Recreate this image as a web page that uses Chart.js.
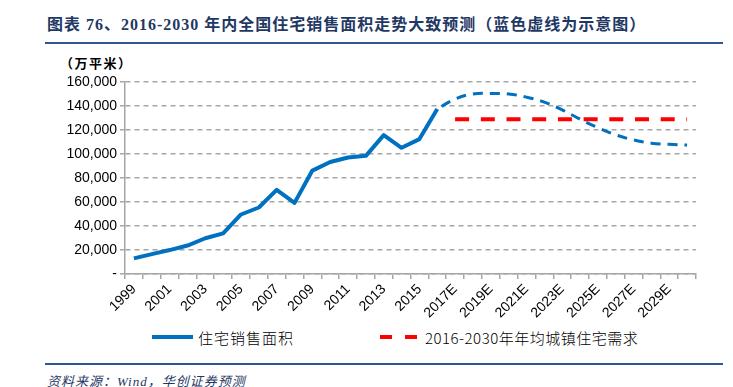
<!DOCTYPE html>
<html>
<head>
<meta charset="utf-8">
<script src="https://cdn.jsdelivr.net/npm/chart.js@4/dist/chart.umd.min.js"></script>
<style>
  body { margin: 0; background: #fff; }
  #page { position: relative; width: 733px; height: 387px; overflow: hidden; }
  .title { position: absolute; left: 47px; top: 11px; font: bold 16px "Liberation Serif", "Noto Sans CJK SC"; color: #1f3864; letter-spacing: 1px; white-space: nowrap; }
  .rule { position: absolute; left: 45px; width: 678px; height: 2px; background: #2f5597; }
  .unit { position: absolute; left: 60px; top: 53px; font: bold 13px "Noto Sans CJK SC"; color: #000; letter-spacing: 1.5px; }
  #wrap { position: absolute; left: 0; top: 70px; width: 733px; height: 250px; }
  .leg { position: absolute; top: 327px; font: 300 15px "Noto Sans CJK SC"; color: #000; letter-spacing: 1px; white-space: nowrap; }
  .swatch { position: absolute; height: 4px; }
  .src { position: absolute; left: 47px; top: 371px; font: italic 13px "Liberation Serif", "Noto Sans CJK SC"; color: #1f3864; letter-spacing: 1px; white-space: nowrap; }
</style>
</head>
<body>
<div id="page">
  <div class="title">图表 76、2016-2030 年内全国住宅销售面积走势大致预测（蓝色虚线为示意图）</div>
  <div class="rule" style="top:42px"></div>
  <div class="unit">（万平米）</div>
  <div id="wrap"><canvas id="c"></canvas></div>
  <div class="swatch" style="left:152px; top:335px; width:41px; background:#0070c0"></div>
  <div class="leg" style="left:198px">住宅销售面积</div>
  <div class="swatch" style="left:380px; top:335px; width:12px; background:#ff0000"></div>
  <div class="swatch" style="left:405px; top:335px; width:12px; background:#ff0000"></div>
  <div class="leg" style="left:425px; letter-spacing:0.5px">2016-2030年年均城镇住宅需求</div>
  <div class="rule" style="top:363px"></div>
  <div class="src">资料来源：Wind，华创证券预测</div>
</div>
<script>
const years = ['1999','2000','2001','2002','2003','2004','2005','2006','2007','2008',
  '2009','2010','2011','2012','2013','2014','2015','2016',
  '2017E','2018E','2019E','2020E','2021E','2022E','2023E','2024E','2025E','2026E',
  '2027E','2028E','2029E','2030E'];

// 住宅销售面积 (万平米), 1999-2016
const salesArea = [12998, 16570, 19939, 23702, 29779, 33820, 49588, 55423, 70136, 59280,
  86185, 93377, 97030, 98468, 115723, 105188, 112412, 137540];

// 示意走势 2016-2030E
const trendYears = ['2016','2017E','2018E','2019E','2020E','2021E','2022E','2023E','2024E',
  '2025E','2026E','2027E','2028E','2029E','2030E'];
const trendValues = [137540, 145800, 150000, 150500, 150000, 147400, 143300, 136800, 129000,
  122000, 116000, 111700, 109000, 108100, 107500];

// 年均城镇住宅需求
const demandYears = ['2017E','2018E','2019E','2020E','2021E','2022E','2023E','2024E',
  '2025E','2026E','2027E','2028E','2029E','2030E'];
const demandValue = 129000;

const yTicks = [0, 20000, 40000, 60000, 80000, 100000, 120000, 140000, 160000];

const salesSeries = years.map((y, i) => i < salesArea.length ? salesArea[i] : null);
const trendSeries = years.map(y => {
  const k = trendYears.indexOf(y);
  return k >= 0 ? trendValues[k] : null;
});
const demandSeries = years.map(y => demandYears.includes(y) ? demandValue : null);

const gridGray = '#a6a6a6';

new Chart(document.getElementById('c'), {
  type: 'line',
  data: {
    labels: years,
    datasets: [
      {
        label: '住宅销售面积',
        data: salesSeries,
        borderColor: '#0070c0',
        borderWidth: 4,
        pointRadius: 0,
        tension: 0,
        borderJoinStyle: 'round'
      },
      {
        label: '示意',
        data: trendSeries,
        borderColor: '#0070c0',
        borderWidth: 3,
        borderDash: [10, 7],
        borderDashOffset: -5,
        pointRadius: 0,
        tension: 0.4
      },
      {
        label: '2016-2030年年均城镇住宅需求',
        data: demandSeries,
        borderColor: '#ff0000',
        borderWidth: 4,
        borderDash: [14, 11.7],
        pointRadius: 0
      }
    ]
  },
  options: {
    responsive: true,
    maintainAspectRatio: false,
    animation: false,
    layout: { padding: { top: 12, right: 37, left: 0, bottom: 0 } },
    plugins: { legend: { display: false }, tooltip: { enabled: false } },
    scales: {
      x: {
        offset: true,
        afterFit: s => { s.height = 46; },
        grid: { offset: true, drawOnChartArea: false, color: gridGray, tickLength: 5, lineWidth: 1.5 },
        border: { color: gridGray, width: 1.5 },
        ticks: {
          autoSkip: false,
          minRotation: 45,
          maxRotation: 45,
          padding: 2,
          color: '#000',
          font: { family: 'Liberation Sans', size: 14 },
          callback: (v, i) => i % 2 === 0 ? years[i] : ''
        }
      },
      y: {
        min: 0,
        max: 160000,
        afterFit: s => { s.width = 125; },
        afterBuildTicks: s => { s.ticks = yTicks.map(v => ({ value: v })); },
        grid: { color: gridGray, lineWidth: 1.5, tickLength: 5, tickColor: gridGray, tickBorderDash: [] },
        border: { color: gridGray, width: 1.5, dash: [5, 4] },
        ticks: {
          padding: 3,
          color: '#000',
          font: { family: 'Liberation Sans', size: 14 },
          callback: v => v === 0 ? '-' : v.toLocaleString('en-US')
        }
      }
    }
  }
});
</script>
</body>
</html>
